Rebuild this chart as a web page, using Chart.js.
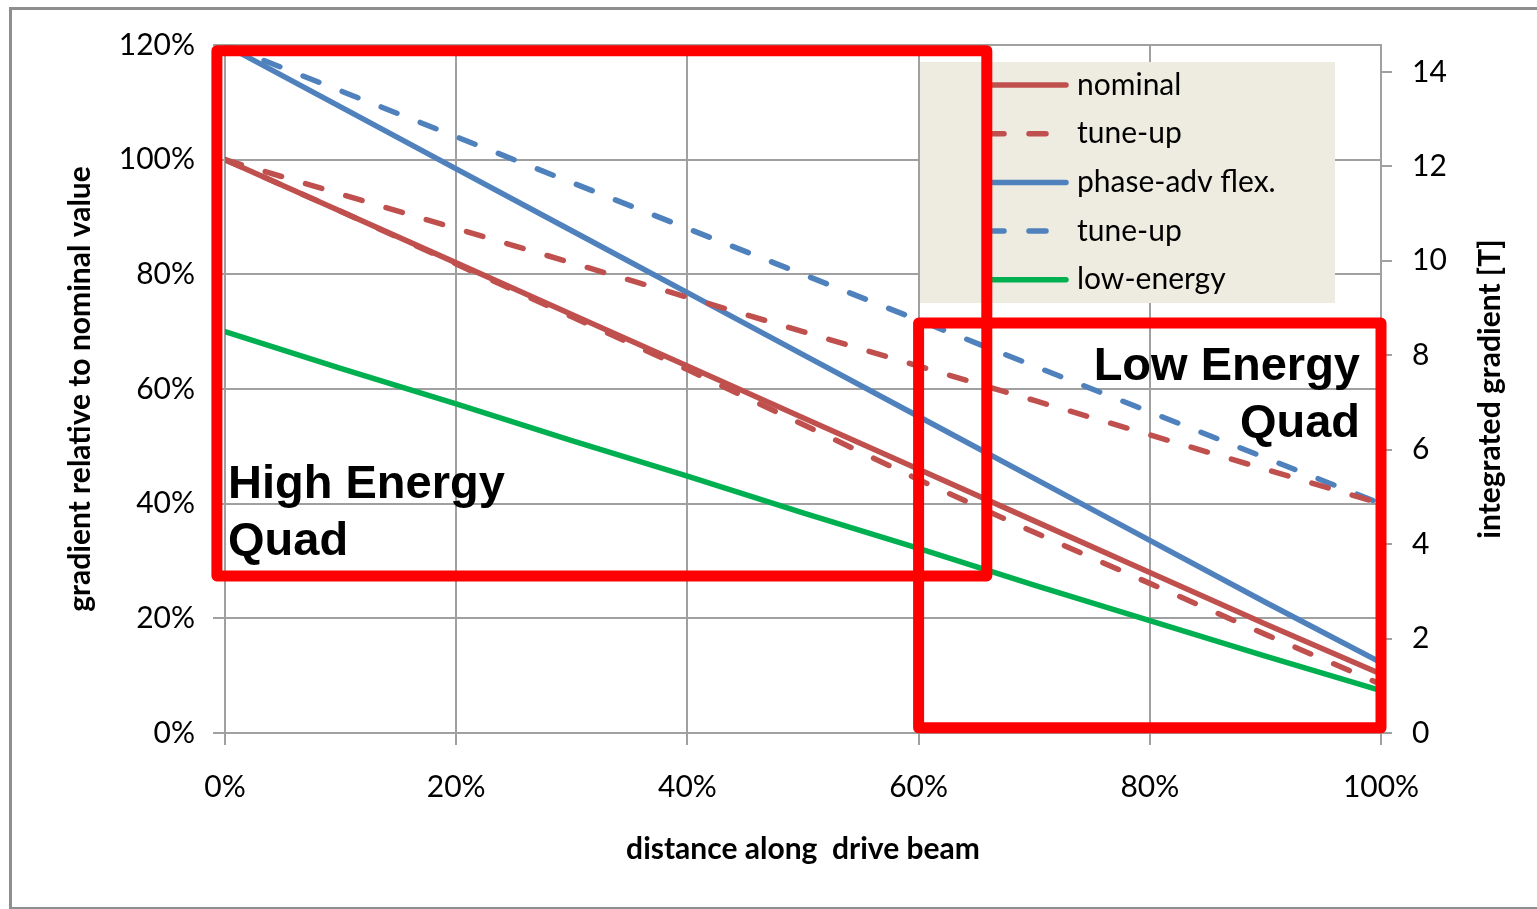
<!DOCTYPE html>
<html>
<head>
<meta charset="utf-8">
<script src="https://cdn.jsdelivr.net/npm/chart.js@4/dist/chart.umd.min.js"></script>
<style>
  body { margin: 0; background: #fff; overflow: hidden; }
  #wrap { position: relative; width: 1537px; height: 909px; }
  #frame { position: absolute; left: 9px; top: 7px; width: 1600px; height: 897px;
           border: 3px solid #8e8e8e; border-right: none; }
  #quadChart { position: absolute; left: 0; top: 0; }
</style>
</head>
<body>
<div id="wrap">
  <div id="frame"></div>
  <canvas id="quadChart" width="1537" height="909"></canvas>
</div>
<script>
//Distance along the drive beam, in %
var distance = [0, 10, 20, 30, 40, 50, 60, 70, 80, 90, 100];

//Gradients relative to nominal, in %
var nominal        = [100, 91, 82, 73, 64, 55, 46, 37, 28, 19, 10.3];
var tuneUpHigh     = [100, 94, 88, 82, 76, 70, 64, 58, 52, 46, 40];
var tuneUpLow      = [100, 91, 81.8, 72.6, 63.4, 53.8, 44.2, 35.0, 26.1, 17.2, 8.5];
var phaseAdv       = [120, 109.2, 98.4, 87.6, 76.8, 66, 55.2, 44.4, 33.6, 22.8, 12.3];
var phaseAdvTuneUp = [120, 112, 104, 96, 88, 80, 72, 64, 56, 48, 40];
var lowEnergy      = [70, 63.6, 57.4, 51.0, 44.8, 38.4, 32.2, 25.8, 19.6, 13.4, 7.4];

//Tick labels
var xTicks  = [0, 20, 40, 60, 80, 100];
var yTicks  = [0, 20, 40, 60, 80, 100, 120];
var y2Ticks = [0, 2, 4, 6, 8, 10, 12, 14];

var RED = '#c0504d', BLUE = '#4f81bd', GREEN = '#00b050', GRID = '#a0a0a0';
var DASH = [17, 25];
var LINE_W = 5.5;

function pts(arr) {
  return arr.map(function(v, i) { return { x: distance[i], y: v }; });
}

function series(label, arr, color, dashed, inLegend) {
  return {
    label: label,
    data: pts(arr),
    borderColor: color,
    borderWidth: LINE_W,
    borderDash: dashed ? DASH : [],
    borderCapStyle: 'round',
    pointRadius: 0,
    fill: false,
    tension: 0,
    inLegend: inLegend
  };
}

//Boxes marking the two quad regions, in axis units
var quadBoxes = [
  { x0: -0.7, x1: 65.9, y0: 119.0, y1: 27.4 },
  { x0: 60.0, x1: 100.0, y0: 71.5, y1: 0.9 }
];

//Legend drawn as a shaded panel in the upper right
var legendPanel = {
  id: 'legendPanel',
  afterDraw: function(chart) {
    var ctx = chart.ctx;
    ctx.save();
    ctx.fillStyle = '#eeece1';
    ctx.fillRect(920, 62, 415, 241);
    var rows = chart.data.datasets.filter(function(d) { return d.inLegend; });
    ctx.font = '30px Lato';
    ctx.textBaseline = 'middle';
    rows.forEach(function(d, i) {
      var y = 85 + i * 48.7;
      ctx.beginPath();
      ctx.strokeStyle = d.borderColor;
      ctx.lineWidth = LINE_W;
      ctx.lineCap = 'round';
      ctx.setLineDash(d.borderDash);
      ctx.moveTo(987, y);
      ctx.lineTo(1066, y);
      ctx.stroke();
      ctx.setLineDash([]);
      ctx.fillStyle = '#000';
      ctx.fillText(d.label, 1077, y);
    });
    ctx.restore();
  }
};

//Red boxes, their labels and the right-hand axis title
var overlays = {
  id: 'overlays',
  afterDraw: function(chart) {
    var ctx = chart.ctx, xs = chart.scales.x, ys = chart.scales.y;
    ctx.save();
    ctx.strokeStyle = '#ff0000';
    ctx.lineWidth = 11;
    ctx.lineJoin = 'round';
    quadBoxes.forEach(function(b) {
      var l = xs.getPixelForValue(b.x0), r = xs.getPixelForValue(b.x1);
      var t = ys.getPixelForValue(b.y0), btm = ys.getPixelForValue(b.y1);
      ctx.strokeRect(l, t, r - l, btm - t);
    });

    ctx.fillStyle = '#000';
    ctx.font = 'bold 47px "Liberation Sans"';
    ctx.textBaseline = 'alphabetic';
    ctx.textAlign = 'left';
    ctx.fillText('High Energy', 228, 498);
    ctx.fillText('Quad', 228, 555);
    ctx.textAlign = 'right';
    ctx.fillText('Low Energy', 1360, 380);
    ctx.fillText('Quad', 1360, 437);

    ctx.font = 'bold 30px Lato';
    ctx.textAlign = 'center';
    ctx.textBaseline = 'middle';
    ctx.translate(1490, (chart.chartArea.top + chart.chartArea.bottom) / 2);
    ctx.rotate(-Math.PI / 2);
    ctx.fillText('integrated gradient [T]', 0, 0);
    ctx.restore();
  }
};

var chart = new Chart(document.getElementById('quadChart').getContext('2d'), {
  type: 'line',
  data: {
    datasets: [
      series('nominal', nominal, RED, false, true),
      series('tune-up', tuneUpHigh, RED, true, true),
      series('tune-up', tuneUpLow, RED, true, false),
      series('phase-adv flex.', phaseAdv, BLUE, false, true),
      series('tune-up', phaseAdvTuneUp, BLUE, true, true),
      series('low-energy', lowEnergy, GREEN, false, true)
    ]
  },
  options: {
    responsive: false,
    devicePixelRatio: 1,
    animation: false,
    layout: { padding: { top: 45, left: 0, right: 0, bottom: 0 } },
    plugins: { legend: { display: false }, tooltip: { enabled: false } },
    scales: {
      x: {
        type: 'linear',
        min: 0, max: 100,
        afterFit: function(s) { s.height = 176; },
        afterBuildTicks: function(s) { s.ticks = xTicks.map(function(v) { return { value: v }; }); },
        grid: { color: GRID, lineWidth: 2, tickLength: 12 },
        border: { color: GRID, width: 2 },
        ticks: {
          color: '#000', padding: 24, maxRotation: 0,
          font: { family: 'Lato', size: 30 },
          callback: function(v) { return v + '%'; }
        },
        title: {
          display: true, text: 'distance along  drive beam', color: '#000',
          font: { family: 'Lato', size: 30, weight: 'bold' },
          padding: { top: 0, bottom: 42 }
        }
      },
      y: {
        position: 'left',
        min: 0, max: 120,
        afterFit: function(s) { s.width = 225; },
        afterBuildTicks: function(s) { s.ticks = yTicks.map(function(v) { return { value: v }; }); },
        grid: { color: GRID, lineWidth: 2, tickLength: 12 },
        border: { color: GRID, width: 2 },
        ticks: {
          color: '#000', padding: 18,
          font: { family: 'Lato', size: 30 },
          callback: function(v) { return v + '%'; }
        },
        title: {
          display: true, text: 'gradient relative to nominal value', color: '#000',
          font: { family: 'Lato', size: 30, weight: 'bold' },
          padding: { top: 62, bottom: 0 }
        }
      },
      y2: {
        position: 'right',
        min: 0, max: 14.57,
        afterFit: function(s) { s.width = 156; },
        afterBuildTicks: function(s) { s.ticks = y2Ticks.map(function(v) { return { value: v }; }); },
        grid: { drawOnChartArea: false, color: GRID, lineWidth: 2, tickLength: 11 },
        border: { color: GRID, width: 2 },
        ticks: {
          color: '#000', padding: 20,
          font: { family: 'Lato', size: 30 }
        }
      }
    }
  },
  plugins: [legendPanel, overlays]
});
</script>
</body>
</html>
